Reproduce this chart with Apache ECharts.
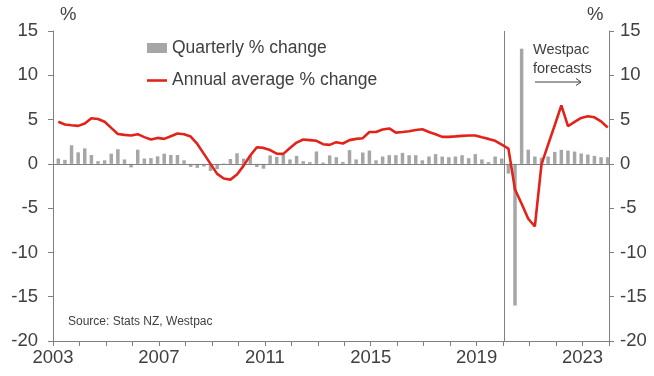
<!DOCTYPE html>
<html>
<head>
<meta charset="utf-8">
<script src="https://cdn.jsdelivr.net/npm/echarts@6/dist/echarts.min.js"></script>
<style>
  html, body { margin: 0; padding: 0; background: #ffffff; }
  #chart { width: 654px; height: 376px; }
</style>
</head>
<body>
<div id="chart"></div>
<script>
// NZ quarterly series, 2003 Q1 – 2023 Q4 (forecasts from 2020)
const years = [2003, 2004, 2005, 2006, 2007, 2008, 2009, 2010, 2011, 2012, 2013,
               2014, 2015, 2016, 2017, 2018, 2019, 2020, 2021, 2022, 2023];
const quarters = [1, 2, 3, 4];

// Quarterly % change (one row of four quarters per year)
const quarterlyChange = [
  0.6, 0.45, 2.1, 1.3,
  1.75, 1.0, 0.3, 0.4,
  1.15, 1.65, 0.5, -0.4,
  1.6, 0.6, 0.65, 0.85,
  1.15, 1.0, 1.0, 0.4,
  -0.35, -0.45, -0.3, -0.8,
  -0.6, 0.05, 0.55, 1.2,
  0.6, 0.9, -0.35, -0.55,
  0.95, 0.8, 1.0, 0.5,
  0.9, 0.3, 0.2, 1.4,
  0.15, 0.95, 0.75, 0.22,
  1.55, 0.5, 1.28, 1.5,
  0.4, 0.83, 0.98, 0.98,
  1.24, 0.98, 0.98, 0.4,
  0.83, 1.1, 0.83, 0.75,
  0.83, 0.98, 0.64, 1.1,
  0.5, 0.2, 0.83, 0.6,
  -1.1, -16.0, 13.0, 1.6,
  0.83, 0.7, 0.83, 1.35,
  1.58, 1.5, 1.39, 1.17,
  1.05, 0.9, 0.75, 0.75
];

// Annual average % change
const annualAvgChange = [
  4.75, 4.44, 4.36, 4.29,
  4.55, 5.15, 5.07, 4.75,
  4.06, 3.38, 3.27, 3.2,
  3.35, 3.02, 2.76, 2.93,
  2.82, 3.12, 3.42, 3.35,
  3.08, 2.25, 1.13, 0.0,
  -1.13, -1.65, -1.78, -1.2,
  -0.2, 0.94, 1.88, 1.8,
  1.56, 1.15, 1.13, 1.8,
  2.4, 2.75, 2.68, 2.6,
  2.22, 2.14, 2.45, 2.3,
  2.68, 2.82, 2.9, 3.6,
  3.6, 3.87, 4.0, 3.53,
  3.6, 3.68, 3.83, 3.9,
  3.6, 3.35, 3.05, 3.05,
  3.1, 3.16, 3.2, 3.2,
  3.0, 2.82, 2.6, 2.18,
  1.73, -2.9, -4.5, -6.2,
  -7.07, -0.05, 2.18, 4.36,
  6.6, 4.25, 4.74, 5.19,
  5.38, 5.26, 4.8, 4.1
];

const yTicks = { min: -20, max: 15, step: 5 };
const xTicks = { min: 2003, max: 2024, labelEvery: 4 };
const forecastStart = 2020.06;

// Each quarter is plotted at its date in decimal years (mid-March, mid-June, ...)
const dates = [];
years.forEach(y => quarters.forEach(q => dates.push(y + 0.2 + (q - 1) * 0.25)));

const barData = dates.map((d, i) => [d, quarterlyChange[i]]);
const lineData = dates.map((d, i) => [d, annualAvgChange[i]]);

const FONT = '"Liberation Sans", Arial, sans-serif';
const TEXT = '#404040';
const AXIS = '#808080';
const RED = '#e2231a';
const AXIS_FONT = 18.5;

const yAxisBase = {
  type: 'value',
  min: yTicks.min,
  max: yTicks.max,
  interval: yTicks.step,
  axisLine: { show: true, lineStyle: { color: AXIS, width: 1 } },
  axisTick: { show: true, length: 5, lineStyle: { color: AXIS } },
  splitLine: { show: false }
};

const chart = echarts.init(document.getElementById('chart'), null, { renderer: 'canvas' });

chart.setOption({
  animation: false,
  backgroundColor: '#ffffff',
  grid: { left: 53, right: 45, top: 31, bottom: 35, containLabel: false },
  legend: {
    orient: 'vertical',
    left: 147,
    top: 38,
    itemWidth: 20,
    itemHeight: 10,
    itemGap: 12.5,
    padding: 0,
    symbolKeepAspect: true,
    textStyle: { fontSize: 17.5, color: TEXT, fontFamily: FONT, lineHeight: 20 },
    data: [
      { name: 'Quarterly % change', icon: 'rect' },
      // a thin bar stands in for the line swatch
      { name: 'Annual average % change', icon: 'path://M0,0 L20,0 L20,2.6 L0,2.6 Z' }
    ]
  },
  xAxis: {
    type: 'value',
    min: xTicks.min,
    max: xTicks.max,
    interval: 1,
    axisLine: { onZero: false, lineStyle: { color: AXIS, width: 1 } },
    axisTick: { show: true, length: 5, lineStyle: { color: AXIS } },
    axisLabel: {
      fontSize: AXIS_FONT, color: TEXT, fontFamily: FONT, margin: 7,
      formatter: v => ((v - xTicks.min) % xTicks.labelEvery === 0 ? String(v) : '')
    },
    splitLine: { show: false }
  },
  yAxis: [
    Object.assign({}, yAxisBase, {
      position: 'left',
      axisLabel: { fontSize: AXIS_FONT, color: TEXT, fontFamily: FONT, margin: 15 }
    }),
    Object.assign({}, yAxisBase, {
      position: 'right',
      axisLabel: { fontSize: AXIS_FONT, color: TEXT, fontFamily: FONT, margin: 11 }
    })
  ],
  series: [
    {
      name: 'Quarterly % change',
      type: 'bar',
      yAxisIndex: 0,
      data: barData,
      barWidth: 3.5,
      itemStyle: { color: '#a6a6a6' },
      markLine: {
        silent: true,
        symbol: 'none',
        label: { show: false },
        lineStyle: { color: AXIS, width: 1, type: 'solid' },
        data: [{ yAxis: 0 }, { xAxis: forecastStart }]
      }
    },
    {
      name: 'Annual average % change',
      type: 'line',
      yAxisIndex: 0,
      data: lineData,
      symbol: 'none',
      z: 5,
      lineStyle: { color: RED, width: 2.6 },
      itemStyle: { color: RED }
    }
  ],
  graphic: [
    { type: 'text', left: 60, top: 5, style: { text: '%', fontSize: AXIS_FONT, fill: TEXT, fontFamily: FONT } },
    { type: 'text', left: 587, top: 5, style: { text: '%', fontSize: AXIS_FONT, fill: TEXT, fontFamily: FONT } },
    { type: 'text', left: 533, top: 41, style: { text: 'Westpac\nforecasts', fontSize: 14.5, lineHeight: 18.5, fill: TEXT, fontFamily: FONT } },
    { type: 'line', shape: { x1: 535, y1: 82, x2: 581, y2: 82 }, style: { stroke: TEXT, lineWidth: 1 } },
    { type: 'polyline', shape: { points: [[576, 78.5], [581, 82], [576, 85.5]] }, style: { stroke: TEXT, lineWidth: 1, fill: null } },
    { type: 'text', left: 68, top: 316, style: { text: 'Source: Stats NZ, Westpac', fontSize: 12, fill: TEXT, fontFamily: FONT } }
  ]
});
</script>
</body>
</html>
